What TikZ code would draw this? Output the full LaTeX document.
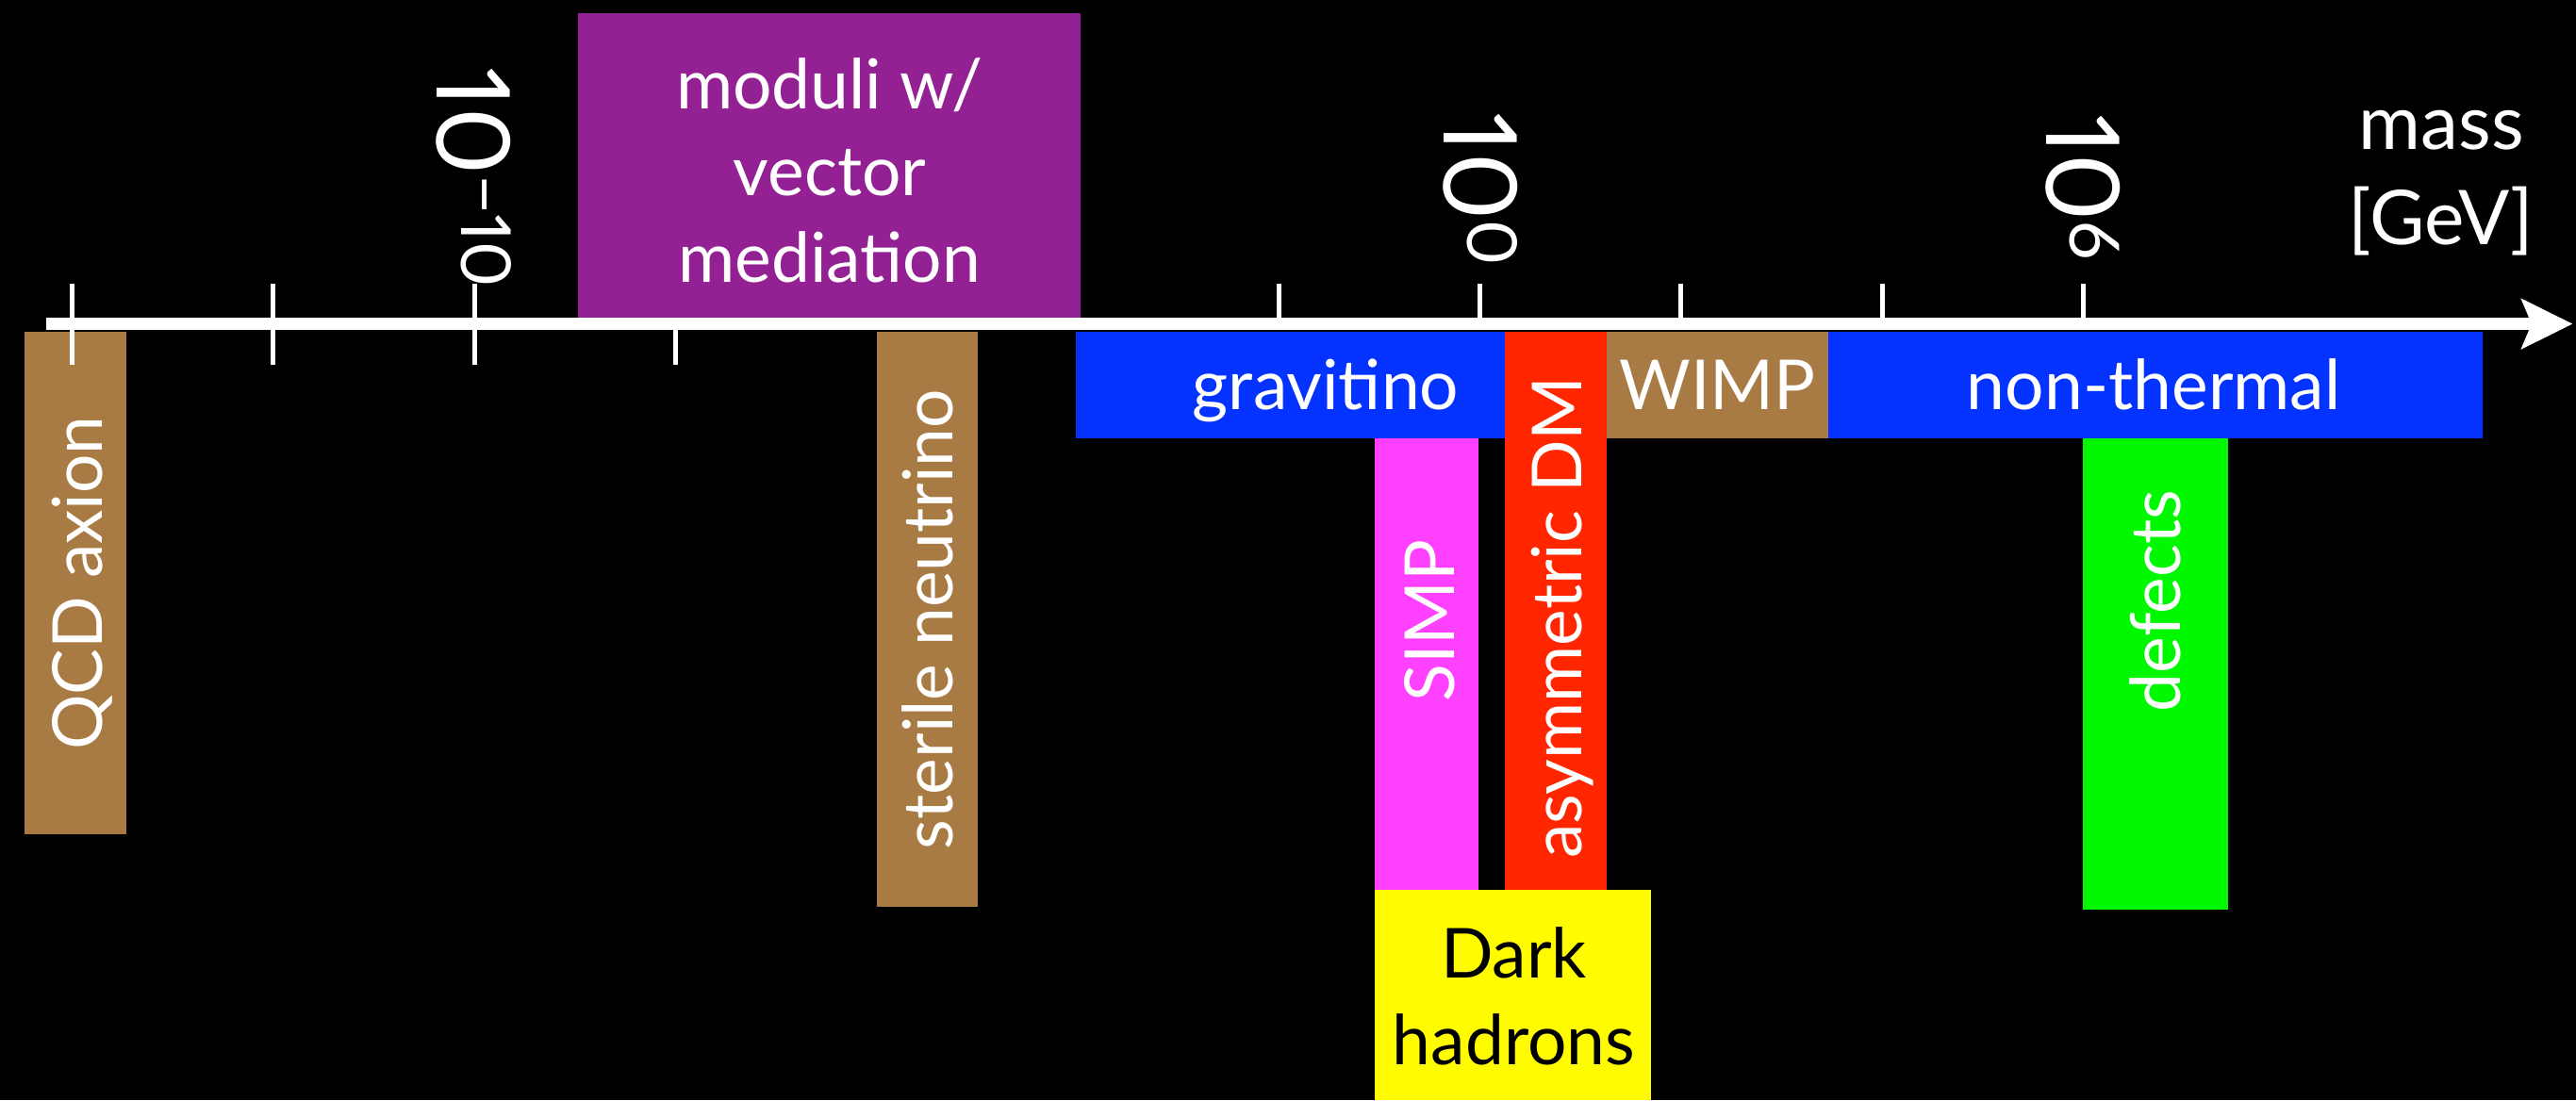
\documentclass[tikz,border=0pt]{standalone}
\usepackage{fontspec}
\setmainfont{Lato}
\newfontfamily\tickfamily[Numbers={Proportional,Lining}]{Lato}
\usetikzlibrary{arrows.meta,fit}

% band colours
\definecolor{bandbrown}{RGB}{169,123,68}
\definecolor{bandplum}{HTML}{942193}
\definecolor{bandblue}{HTML}{0433FF}
\definecolor{bandred}{HTML}{FF2600}
\definecolor{bandpink}{HTML}{FF40FF}
\definecolor{bandyellow}{HTML}{FFFB00}
\definecolor{bandgreen}{HTML}{00F900}

\newcommand\bandfont{\fontsize{21}{26.5}\selectfont}
\newcommand\tickfont{\tickfamily\fontsize{31}{31}\selectfont}
\newcommand\expo[1]{\raisebox{7.2pt}{\fontsize{21}{21}\selectfont #1}}
% a filled band spanning two corners: name, x1, y1, x2, y2, colour
\newcommand\band[6]{\node[bandbox, fill=#6, fit={(#2,#3) (#4,#5)}] (#1) {};}

\begin{document}
\begin{tikzpicture}[x=0.5pt, y=-0.5pt,
  bandbox/.style={draw=none, inner sep=0pt, outer sep=0pt},
  vlabel/.style={rotate=90, text=white, font=\bandfont, inner sep=0pt,
                 text height=15pt, text depth=0pt},
  hlabel/.style={text=white, font=\bandfont, inner sep=0pt,
                 text height=15pt, text depth=0pt},
  % multi-line labels are placed by the baseline of their last line
  blocklabel/.style={anchor=base, align=center, font=\bandfont, inner sep=0pt},
  ticklabel/.style={rotate=-90, text=white, font=\tickfont, inner sep=0pt,
                    text height=22.2pt, text depth=0pt},
  tickmark/.style={draw=white, line width=1.45pt},
  axisline/.style={draw=white, line width=3.65pt,
                   -{Stealth[length=15.5pt, width=15pt, inset=3pt]}}]

\useasboundingbox (0,0) rectangle (1568,670);
\fill[black] (0,0) rectangle (1568,670);

% mass bands
\band{qcd}{15}{202}{77}{508}{bandbrown}
\band{moduli}{352}{8}{658}{193.5}{bandplum}
\band{sterile}{534}{202}{595}{552}{bandbrown}
\band{gravitino}{655}{202}{916}{267}{bandblue}
\band{asym}{916}{202}{978}{542}{bandred}
\band{wimp}{978}{202}{1113}{267}{bandbrown}
\band{nonthermal}{1113}{202}{1511}{267}{bandblue}
\band{simp}{837}{267}{900}{542}{bandpink}
\band{hadrons}{837}{542}{1005}{670}{bandyellow}
\band{defects}{1268}{267}{1356}{554}{bandgreen}

% tick marks on the mass axis
\foreach \k/\ya/\yb in {0/173/222, 1/173/222, 2/173/222, 3/197/222,
                        6/173/197, 7/173/197, 8/173/197, 9/173/197, 10/173/197}
  \draw[tickmark] ({44+122.4*\k},\ya) -- ({44+122.4*\k},\yb);

% mass axis
\coordinate (axisstart) at (28,197.2);
\coordinate (axisend) at (1566,197.2);
\draw[axisline] (axisstart) -- (axisend);

% tick labels
\node[ticklabel] (tmten) at (288.5,108) {10\expo{−10}};
\node[ticklabel] (tzero) at (901,115) {10\expo{0}};
\node[ticklabel] (tsix) at (1268,114) {10\expo{6}};

% axis title
\node[blocklabel, text=white, font=\fontsize{23}{29}\selectfont] (unit) at (1486,149) {mass\\{[GeV]}};

% band labels
\node[vlabel] (qcdtext) at (47,355) {QCD axion};
\node[blocklabel, text=white] (modulitext) at (505,172) {moduli w/\\vector\\mediation};
\node[vlabel] (steriletext) at (565,377) {sterile neutrino};
\node[hlabel] (gravitinotext) at (807,234.5) {gravitino};
\node[vlabel] (asymtext) at (948,376) {asymmetric DM};
\node[hlabel] (wimptext) at (1045.5,234.5) {WIMP};
\node[hlabel] (nonthermaltext) at (1311,234.5) {non-thermal};
\node[vlabel] (simptext) at (870,378) {SIMP};
\node[blocklabel, text=black] (hadronstext) at (921.5,648.5) {Dark\\hadrons};
\node[vlabel] (defectstext) at (1312,366) {defects};

\end{tikzpicture}
\end{document}
